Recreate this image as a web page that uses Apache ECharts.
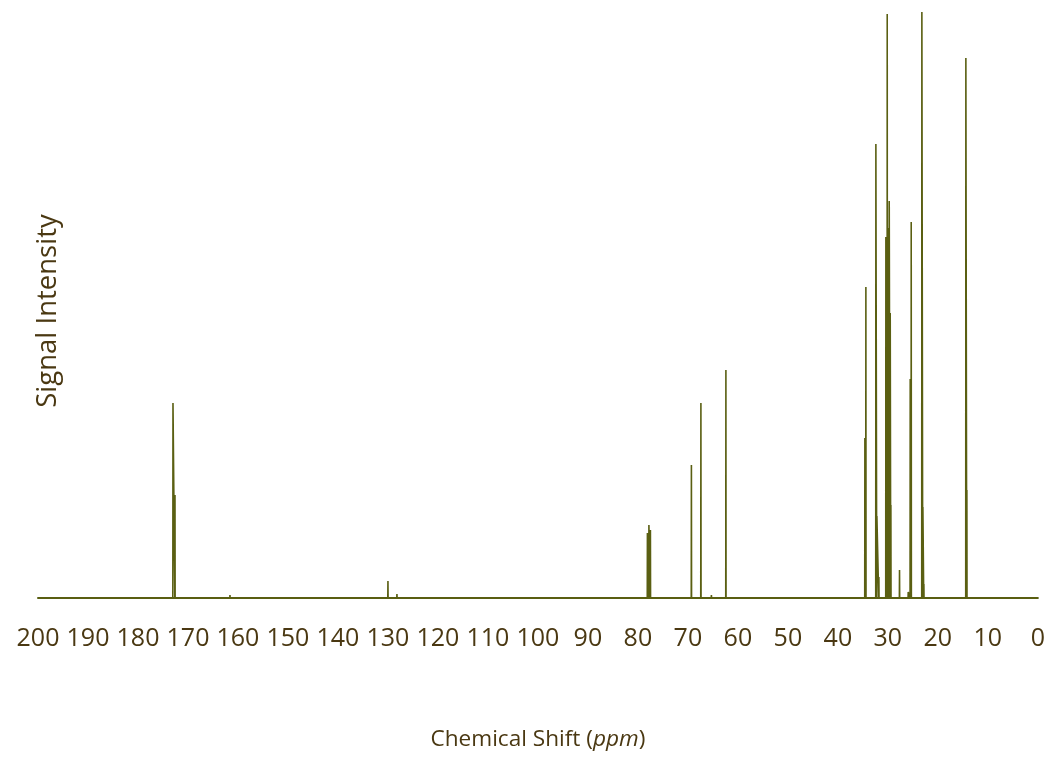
<!DOCTYPE html>
<html>
<head>
<meta charset="utf-8">
<title>13C NMR Spectrum</title>
<script src="https://cdn.jsdelivr.net/npm/echarts@6/dist/echarts.min.js"></script>
<style>
  html, body { margin: 0; padding: 0; background: #ffffff; }
  #chart { width: 1048px; height: 764px; }
</style>
</head>
<body>
<div id="chart"></div>
<script>
// Peak positions (ppm) and their signal heights
const peakShifts = [
  173.0, 172.6, 161.6, 130.0, 128.2,
  78.1, 77.8, 77.5, 69.3, 68.3, 67.4, 65.3, 62.4,
  34.6, 34.4, 32.4, 32.2, 31.8,
  30.4, 30.33, 30.13, 30.07, 29.87, 29.73, 29.53, 29.4,
  27.67, 25.93, 25.53, 25.33, 23.2, 23.0, 22.8,
  14.4, 14.2
];
const peakHeights = [
  195, 103, 3, 17, 4,
  65, 73, 68, 133, 2, 195, 3, 228,
  160, 311, 454, 82, 21,
  361, 254, 584, 31, 370, 397, 285, 93,
  28, 6, 219, 376, 586, 91, 14,
  540, 108
];
// Axis tick labels (ppm), 200 down to 0
const shiftTicks = [200, 190, 180, 170, 160, 150, 140, 130, 120, 110, 100, 90, 80, 70, 60, 50, 40, 30, 20, 10, 0];

const lineColor = '#5a5f12';
const textColor = '#4a3812';

// Build a stick spectrum: each peak rises from and returns to the baseline
const lineWidthPpm = 0.03;
const order = peakShifts.map((s, i) => i).sort((a, b) => peakShifts[a] - peakShifts[b]);
const spectrum = [[0, 0]];
order.forEach(i => {
  const s = peakShifts[i];
  spectrum.push([s - lineWidthPpm, 0]);
  spectrum.push([s, peakHeights[i]]);
  spectrum.push([s + lineWidthPpm, 0]);
});
spectrum.push([200, 0]);

const chart = echarts.init(document.getElementById('chart'), null, { renderer: 'canvas' });
chart.setOption({
  backgroundColor: '#ffffff',
  animation: false,
  grid: { left: 38, right: 10, top: 8, bottom: 166 },
  xAxis: {
    type: 'value',
    min: 0,
    max: 200,
    interval: 10,
    inverse: true,
    name: '{n|Chemical Shift (}{i|ppm}{n|)}',
    nameLocation: 'middle',
    nameGap: 130,
    nameTextStyle: {
      rich: {
        n: { fontFamily: 'Open Sans', fontSize: 22.6, color: textColor },
        i: { fontFamily: 'Open Sans', fontSize: 22.6, fontStyle: 'italic', color: textColor }
      }
    },
    axisLine: { show: true, lineStyle: { color: lineColor, width: 2 } },
    axisTick: { show: false },
    splitLine: { show: false },
    axisLabel: {
      margin: 28,
      fontFamily: 'Open Sans',
      fontSize: 25,
      color: textColor,
      formatter: v => shiftTicks.includes(v) ? String(v) : ''
    }
  },
  yAxis: {
    type: 'value',
    min: 0,
    max: 590,
    name: 'Signal Intensity',
    nameLocation: 'middle',
    nameRotate: 90,
    nameGap: -24,
    nameTextStyle: { fontFamily: 'Open Sans', fontSize: 27.5, color: textColor, padding: [0, 0, 0, -16] },
    axisLine: { show: false },
    axisTick: { show: false },
    axisLabel: { show: false },
    splitLine: { show: false }
  },
  series: [{
    type: 'line',
    data: spectrum,
    showSymbol: false,
    symbol: 'none',
    lineStyle: { color: lineColor, width: 1.6 },
    clip: true
  }]
});
</script>
</body>
</html>
